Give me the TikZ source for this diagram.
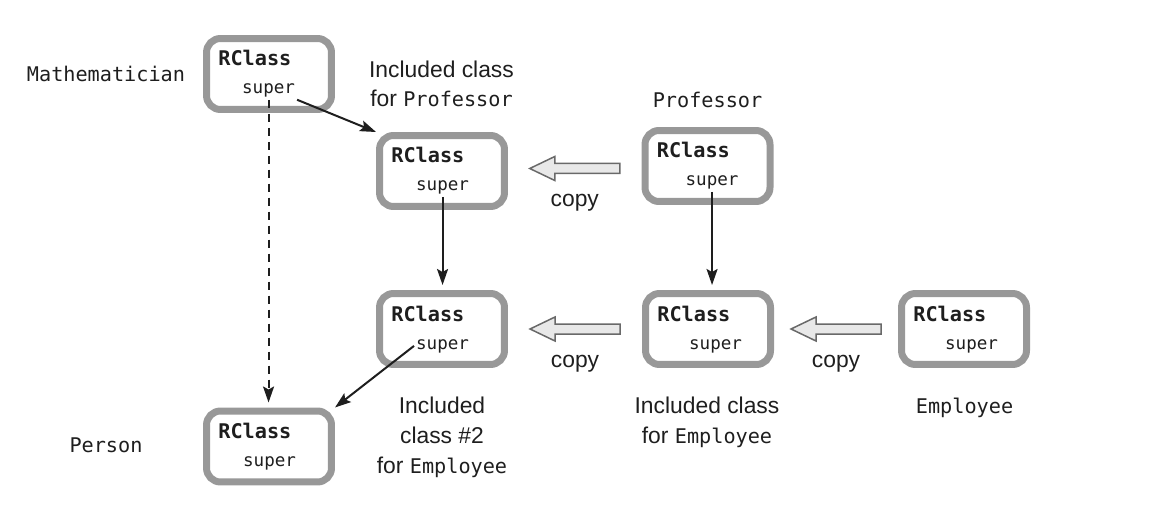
\documentclass[tikz,border=0pt]{standalone}
\usepackage{fontspec}
\setmainfont{Liberation Sans}
\newfontfamily\codefont{DejaVu Sans Mono}
\usetikzlibrary{arrows.meta,calc,positioning}
\definecolor{boxgray}{RGB}{152,152,152}
\definecolor{copyfill}{RGB}{232,232,232}
\definecolor{copyline}{RGB}{105,105,105}
\definecolor{inkblack}{RGB}{30,30,30}
\newcommand{\cname}[1]{{\codefont\fontsize{11.5}{17}\selectfont #1}}

\begin{document}
\begin{tikzpicture}[x=0.02cm,y=-0.02cm]
  \tikzset{rclass box/.style={draw=boxgray,
      line width=0.14cm,
      rounded corners=0.28cm,
      fill=white,
      minimum width=2.5cm,
      minimum height=1.42cm,
      inner sep=0pt},
    rclass name/.style={anchor=base west, inner sep=0pt, text=inkblack,
      font=\codefont\bfseries\fontsize{11.5}{12}\selectfont},
    super name/.style={anchor=base west, inner sep=1pt, text=inkblack,
      font=\codefont\fontsize{10}{11}\selectfont},
    class name/.style={anchor=base, inner sep=0pt, text=inkblack,
      font=\codefont\fontsize{11.5}{12}\selectfont},
    caption text/.style={anchor=base, inner sep=0pt, align=center, text=inkblack,
      font=\fontsize{13}{17}\selectfont},
    ptr/.style={draw=inkblack, line width=0.04cm,
      -{Stealth[length=0.32cm,width=0.22cm,inset=0.06cm]}},
    copy arrow/.style={draw=copyline, fill=copyfill, line width=0.03cm}
  }
  \useasboundingbox (0,0) rectangle (1172,520);
  % RClass boxes with their super field
  \foreach \n/\x/\y/\s in {math/269/74/-29, incprof/442/171/-28, prof/707.5/166/-24,
      inctwo/442/329/-28, incemp/708/329/-21, emp/964/329/-21, person/269/446.5/-28}{
    \node[rclass box] (\n) at (\x,\y) {};
    \node[rclass name] (\n-r) at ($(\n)+(-51,-8)$) {RClass};
    \node[super name] (\n-s) at ($(\n)+(\s,20)$) {super};
  }
  \node[class name] (mathlbl) at (106,82) {Mathematician};
  \node[class name] (proflbl) at (707.5,108) {Professor};
  \node[class name] (emplbl) at (964.5,413) {Employee};
  \node[class name] (personlbl) at (106,452) {Person};
  % multi-line captions sit on their last baseline
  \node[caption text] (incproflbl) at (441.5,107) {Included class\\for \cname{Professor}};
  \node[caption text] (inctwolbl) at (442,473) {Included\\class \#2\\for \cname{Employee}};
  \node[caption text] (incemplbl) at (707,443) {Included class\\for \cname{Employee}};
  % super pointers
  \draw[ptr] (math-s.south east) -- (incprof.north west);
  \draw[ptr, dash pattern=on 0.16cm off 0.12cm, shorten >=0.1cm] (math-s.south) -- (math-s.south |- person.north);
  \draw[ptr, shorten >=0.1cm] (incprof-s.south) -- (incprof-s.south |- inctwo.north);
  \draw[ptr, shorten >=0.1cm] (prof-s.south) -- (prof-s.south |- incemp.north);
  \draw[ptr] (inctwo-s.west) -- (person.north east);
  % copy arrows
  \coordinate (cp1) at ($(incprof.east)!.5!(prof.west)$);
  \coordinate (cp2) at ($(inctwo.east)!.5!(incemp.west)$);
  \coordinate (cp3) at ($(incemp.east)!.5!(emp.west)$);
  \foreach \c in {cp1,cp2,cp3}{
    \draw[copy arrow] ($(\c)+(45,-5)$) -- ++(-65,0) -- ++(0,-7) -- ++(-25,12)
      -- ++(25,12) -- ++(0,-7) -- ++(65,0) -- cycle;
    \node[caption text] (\c-lbl) at ($(\c)+(0,38)$) {copy};
  }
\end{tikzpicture}
\end{document}
